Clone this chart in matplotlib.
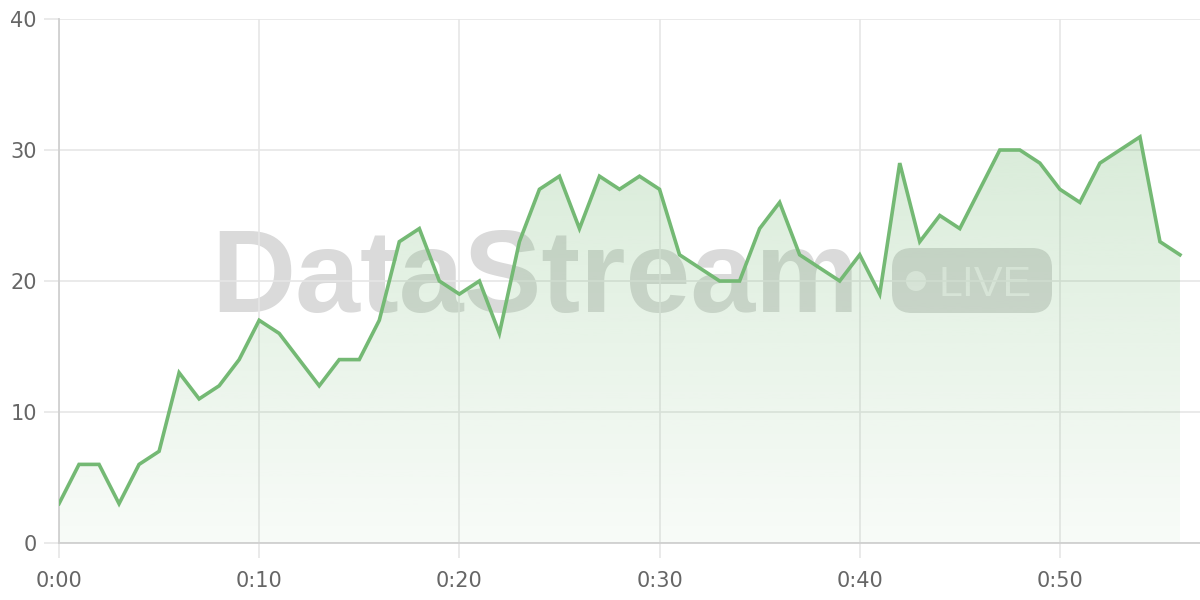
import matplotlib
matplotlib.use("Agg")
import matplotlib.pyplot as plt
import numpy as np
from matplotlib.patches import FancyBboxPatch, Circle

# minutes since start, one reading per minute
minutes = list(range(57))
values = [3, 6, 6, 3, 6, 7, 13, 11, 12, 14,
          17, 16, 14, 12, 14, 14, 17, 23, 24, 20,
          19, 20, 16, 23, 27, 28, 24, 28, 27, 28,
          27, 22, 21, 20, 20, 24, 26, 22, 21, 20,
          22, 19, 29, 23, 25, 24, 27, 30, 30, 29,
          27, 26, 29, 30, 31, 23, 22]
x_ticks = [0, 10, 20, 30, 40, 50]
x_labels = ['0:00', '0:10', '0:20', '0:30', '0:40', '0:50']
y_ticks = [0, 10, 20, 30, 40]

line_color = '#74b974'
grid_color = '#e6e6e6'
text_color = '#666666'

plt.rcParams['font.family'] = ['DejaVu Sans']

fig = plt.figure(figsize=(12, 6), dpi=100, facecolor='white')

# watermark layer in pixel coordinates, behind the chart
wm = fig.add_axes([0, 0, 1, 1], zorder=-1)
wm.set_xlim(0, 1200)
wm.set_ylim(600, 0)
wm.axis('off')
wm.text(211, 312, 'DataStream', fontsize=84, fontweight='bold',
        family='Liberation Sans', color='#8c8c8c', alpha=0.32,
        ha='left', va='baseline')
wm.add_patch(FancyBboxPatch((892, 248), 160, 65,
                            boxstyle='round,pad=0,rounding_size=20',
                            facecolor='#8c8c8c', edgecolor='none', alpha=0.32))
wm.add_patch(Circle((916, 281), 10, facecolor='white', edgecolor='none', alpha=0.55))
wm.text(938, 296, 'LIVE', fontsize=31, family='Liberation Sans',
        color='white', alpha=0.55, ha='left', va='baseline')

ax = fig.add_axes([59 / 1200, 57 / 600, 1 - 59 / 1200, (543 - 19) / 600], zorder=0)
ax.patch.set_alpha(0)

# gradient fill under the line
fill = ax.fill_between(minutes, values, 0, color='none')
grad = np.zeros((256, 1, 4))
r, g, b = matplotlib.colors.to_rgb(line_color)
grad[:, 0, 0] = r
grad[:, 0, 1] = g
grad[:, 0, 2] = b
grad[:, 0, 3] = np.linspace(0.34, 0.05, 256)
im = ax.imshow(grad, aspect='auto', extent=[0, 56, 0, 40], origin='upper', zorder=1)
im.set_clip_path(fill.get_paths()[0], transform=ax.transData)

ax.plot(minutes, values, color=line_color, linewidth=2.6, zorder=3,
        solid_joinstyle='miter')

ax.set_xlim(0, 57)
ax.set_ylim(0, 40)
ax.set_xticks(x_ticks)
ax.set_xticklabels(x_labels)
ax.set_yticks(y_ticks)

ax.grid(True, color=grid_color, linewidth=1.2, zorder=0)
ax.set_axisbelow(True)
for side in ['top', 'right']:
    ax.spines[side].set_visible(False)
for side in ['left', 'bottom']:
    ax.spines[side].set_color('#d0d0d0')
    ax.spines[side].set_linewidth(1.3)

ax.tick_params(axis='y', length=11, width=1.2, color=grid_color, pad=5,
               labelsize=15, labelcolor=text_color)
ax.tick_params(axis='x', length=11, width=1.2, color=grid_color, pad=9,
               labelsize=15, labelcolor=text_color)

plt.savefig('out.png', dpi=100, facecolor='white')
plt.close()
